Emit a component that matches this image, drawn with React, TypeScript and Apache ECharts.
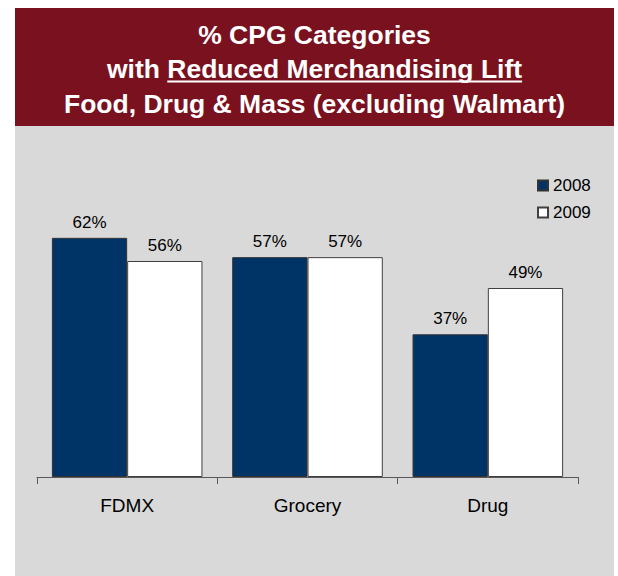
import React, { useEffect, useRef } from "react";
import * as echarts from "echarts";

const categories = ["FDMX", "Grocery", "Drug"];
const seriesNames = ["2008", "2009"];
const values2008 = [62, 57, 37];
const values2009 = [56, 57, 49];
const titleLine1 = "% CPG Categories";
const titleLine2Plain = "with ";
const titleLine2Underlined = "Reduced Merchandising Lift";
const titleLine3 = "Food, Drug & Mass (excluding Walmart)";

const FONT = "'Liberation Sans', Arial, Helvetica, sans-serif";
const TITLE_FONT = `bold 26.5px ${FONT}`;
const BANNER = "#7a111f";
const PANEL = "#d9d9d9";
const NAVY = "#003366";

function measure(text: string, font: string): number {
  const c = document.createElement("canvas").getContext("2d");
  if (!c) return text.length * 14;
  c.font = font;
  return c.measureText(text).width;
}

export default function App() {
  const ref = useRef<HTMLDivElement>(null);
  useEffect(() => {
    if (!ref.current) return;
    const chart = echarts.init(ref.current, undefined, { renderer: "svg" });
    const cx = 314.5;
    const line2 = titleLine2Plain + titleLine2Underlined;
    const fullW = measure(line2, TITLE_FONT);
    const plainW = measure(titleLine2Plain, TITLE_FONT);
    const ulStart = cx - fullW / 2 + plainW;
    const ulEnd = cx + fullW / 2;
    const titleLines = [titleLine1, line2, titleLine3];
    const label = {
      show: true,
      position: "top",
      distance: 7,
      fontSize: 17,
      color: "#000",
      fontFamily: FONT,
      formatter: (p: any) => `${p.value}%`,
    };
    chart.setOption({
      animation: false,
      backgroundColor: "#ffffff",
      textStyle: { fontFamily: FONT },
      graphic: [
        {
          type: "rect",
          z: -10,
          shape: { x: 15, y: 126, width: 599, height: 450 },
          style: { fill: PANEL },
          silent: true,
        },
        {
          type: "rect",
          z: -10,
          shape: { x: 15, y: 8, width: 599, height: 118 },
          style: { fill: BANNER },
          silent: true,
        },
        ...titleLines.map((t, i) => ({
          type: "text",
          x: cx,
          y: 34.5 + i * 34.5,
          style: {
            text: t,
            fill: "#ffffff",
            font: TITLE_FONT,
            textAlign: "center",
            textVerticalAlign: "middle",
          },
          silent: true,
        })),
        {
          type: "line",
          shape: { x1: ulStart, y1: 81.5, x2: ulEnd, y2: 81.5 },
          style: { stroke: "#ffffff", lineWidth: 2 },
          silent: true,
        },
      ],
      legend: {
        orient: "vertical",
        left: 532,
        top: 172,
        itemWidth: 10,
        itemHeight: 10,
        itemGap: 10,
        icon: "rect",
        data: seriesNames,
        textStyle: { fontSize: 17, color: "#000", fontFamily: FONT },
      },
      grid: { left: 37, right: 40, top: 207, bottom: 99, containLabel: false },
      xAxis: {
        type: "category",
        data: categories,
        axisLine: { lineStyle: { color: "#595959", width: 1 } },
        axisTick: { show: true, length: 7, lineStyle: { color: "#595959" } },
        axisLabel: { fontSize: 19, color: "#000", margin: 19, fontFamily: FONT },
      },
      yAxis: {
        type: "value",
        min: 0,
        max: 70,
        show: false,
        splitLine: { show: false },
      },
      series: [
        {
          name: seriesNames[0],
          type: "bar",
          data: values2008,
          barGap: "0%",
          barCategoryGap: "16.5%",
          itemStyle: { color: NAVY, borderColor: "#333333", borderWidth: 1 },
          label,
        },
        {
          name: seriesNames[1],
          type: "bar",
          data: values2009,
          barGap: "0%",
          barCategoryGap: "16.5%",
          itemStyle: { color: "#ffffff", borderColor: "#404040", borderWidth: 1 },
          label,
        },
      ],
    });
    return () => chart.dispose();
  }, []);
  return (
    <div
      ref={ref}
      style={{ position: "fixed", left: 0, top: 0, width: 618, height: 576 }}
    />
  );
}
